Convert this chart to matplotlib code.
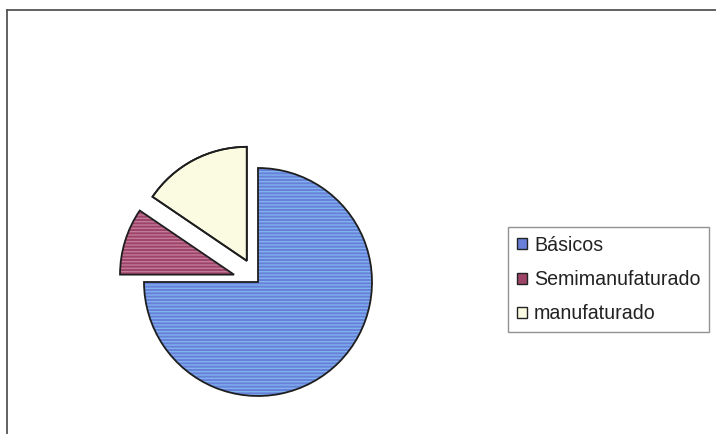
import matplotlib.pyplot as plt
from matplotlib.patches import Patch
from matplotlib.lines import Line2D

# data
labels = ['Básicos', 'Semimanufaturado', 'manufaturado']
shares = [75.0, 9.5, 15.5]
colors = ['#6880d8', '#9e4468', '#fbfbe2']
explode = [0.0, 0.22, 0.21]

plt.rcParams['font.family'] = ['Liberation Sans', 'DejaVu Sans']

W, H = 716, 434
fig = plt.figure(figsize=(W / 100, H / 100), dpi=100)
fig.patch.set_facecolor('white')

# outer frame (only top and left visible, rest cropped)
fig.add_artist(Line2D([7 / W, 7 / W], [0, 1 - 10 / H], transform=fig.transFigure,
                      color='#555555', lw=1.3))
fig.add_artist(Line2D([7 / W, 1], [1 - 10 / H, 1 - 10 / H], transform=fig.transFigure,
                      color='#555555', lw=1.3))

# pie axes: centre at (258, 282) px, radius ~114 px
cx, cy, r = 258, 282, 114
half = 200
ax = fig.add_axes([(cx - half) / W, 1 - (cy + half) / H, 2 * half / W, 2 * half / H])
wedges, _ = ax.pie(shares, colors=colors, explode=explode, startangle=90,
                   counterclock=False, wedgeprops=dict(edgecolor='#1e1e1e', linewidth=1.3))
# streaky texture on the coloured slices
tex = ['#7fb2ee', '#c27a9a', None]
for w, t in zip(wedges, tex):
    if t:
        w.set_hatch('-----')
        w.set_edgecolor(t)
        w.set_linewidth(0)
ax.pie(shares, colors=['none'] * 3, explode=explode, startangle=90,
       counterclock=False, wedgeprops=dict(edgecolor='#1e1e1e', linewidth=1.3, fill=False))
L = half / r
ax.set_xlim(-L, L)
ax.set_ylim(-L, L)
ax.set_aspect('equal')
ax.axis('off')

handles = [Patch(facecolor=c, edgecolor='#222222', linewidth=1.0) for c in colors]
leg = fig.legend(handles, labels, loc='upper left',
                 bbox_to_anchor=(508 / W, 1 - 227 / H), fontsize=14.1,
                 frameon=True, fancybox=False, edgecolor='#777777',
                 handlelength=0.5, handleheight=0.5, handletextpad=0.38,
                 labelspacing=0.78, borderpad=0.45, borderaxespad=0)
leg.get_frame().set_linewidth(1.0)
for t in leg.get_texts():
    t.set_color('#222222')

fig.savefig('out.png', dpi=100)
